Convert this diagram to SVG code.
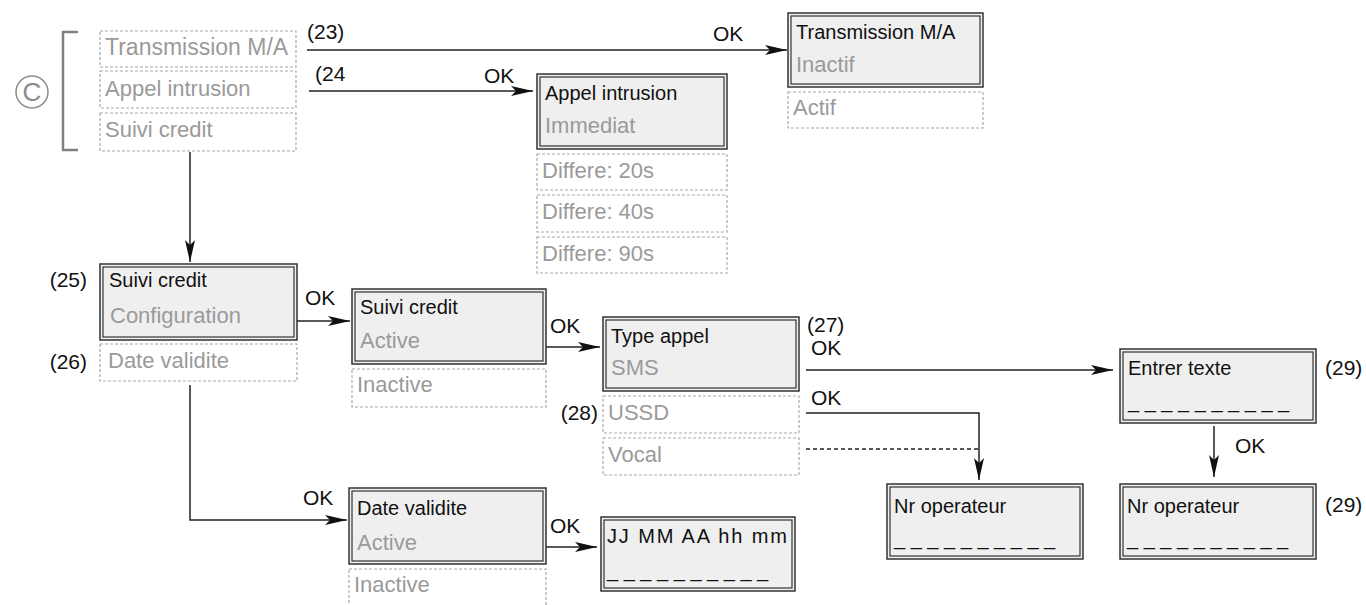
<svg xmlns="http://www.w3.org/2000/svg" width="1366" height="605" viewBox="0 0 1366 605">
<style>
.o{fill:#efefef;stroke:#333;stroke-width:1.5}
.i{fill:none;stroke:#333;stroke-width:1.2}
.d{fill:#fff;stroke:#a8a8a8;stroke-width:1.2;stroke-dasharray:3 2}
.t{font-family:"Liberation Sans",Arial,sans-serif;font-size:20px;fill:#111}
.g{font-family:"Liberation Sans",Arial,sans-serif;font-size:22px;fill:#9a9a9a}
.l{font-family:"Liberation Sans",Arial,sans-serif;font-size:21px;fill:#111}
.c{fill:none;stroke:#222;stroke-width:1.5}
.cd{stroke-dasharray:4 3}
</style>
<defs>
<marker id="ah" viewBox="0 0 22 10" refX="22" refY="5" markerWidth="22" markerHeight="10" markerUnits="userSpaceOnUse" orient="auto">
<path d="M0,0 L22,5 L0,10 L5,5 Z" fill="#111"/>
</marker>
</defs>

<g id="connectors">
<path class="c" d="M307,50 H787" marker-end="url(#ah)"/>
<path class="c" d="M309,91 H533" marker-end="url(#ah)"/>
<path class="c" d="M190,152 V262" marker-end="url(#ah)"/>
<path class="c" d="M297,321 H350" marker-end="url(#ah)"/>
<path class="c" d="M546,347 H600" marker-end="url(#ah)"/>
<path class="c" d="M806,370 H1113" marker-end="url(#ah)"/>
<path class="c" d="M806,413 H979 V480" marker-end="url(#ah)"/>
<path class="c cd" d="M806,449 H979"/>
<path class="c" d="M1214,426 V477" marker-end="url(#ah)"/>
<path class="c" d="M190,385 V520 H347" marker-end="url(#ah)"/>
<path class="c" d="M546,547 H597" marker-end="url(#ah)"/>
<text class="l" x="307" y="39">(23)</text>
<text class="l" x="713" y="41">OK</text>
<text class="l" x="315" y="81">(24</text>
<text class="l" x="484" y="83">OK</text>
<text class="l" x="305" y="305">OK</text>
<text class="l" x="550" y="333">OK</text>
<text class="l" x="807" y="332">(27)</text>
<text class="l" x="811" y="355">OK</text>
<text class="l" x="811" y="405">OK</text>
<text class="l" x="1235" y="453">OK</text>
<text class="l" x="303" y="505">OK</text>
<text class="l" x="550" y="533">OK</text>
</g>

<g id="menu-root">
<path d="M78,32 H63 V150 H78" fill="none" stroke="#808080" stroke-width="2.5"/>
<circle cx="32" cy="92" r="16" fill="none" stroke="#8a8a8a" stroke-width="1.5"/>
<text x="32" y="101" text-anchor="middle" style="font-family:'Liberation Sans',Arial,sans-serif;font-size:26px;fill:#8a8a8a">C</text>
<rect class="d" x="100" y="31" width="196" height="36"/>
<text class="g" x="105" y="55" style="font-size:23px">Transmission M/A</text>
<rect class="d" x="100" y="71" width="196" height="37"/>
<text class="g" x="105" y="96">Appel intrusion</text>
<rect class="d" x="100" y="113" width="196" height="38"/>
<text class="g" x="105" y="137">Suivi credit</text>
</g>

<g id="transmission-ma">
<rect class="o" x="788" y="13" width="195" height="74"/>
<rect class="i" x="791" y="16" width="189" height="68"/>
<text class="t" x="796" y="39">Transmission M/A</text>
<text class="g" x="796" y="72">Inactif</text>
<rect class="d" x="788" y="92" width="195" height="36"/>
<text class="g" x="793" y="115">Actif</text>
</g>

<g id="appel-intrusion">
<rect class="o" x="537" y="74" width="190" height="75"/>
<rect class="i" x="540" y="77" width="184" height="69"/>
<text class="t" x="545" y="100">Appel intrusion</text>
<text class="g" x="545" y="133">Immediat</text>
<rect class="d" x="537" y="154" width="190" height="36"/>
<text class="g" x="542" y="178">Differe: 20s</text>
<rect class="d" x="537" y="195" width="190" height="37"/>
<text class="g" x="542" y="219">Differe: 40s</text>
<rect class="d" x="537" y="237" width="190" height="36"/>
<text class="g" x="542" y="261">Differe: 90s</text>
</g>

<g id="suivi-credit-config">
<text class="l" x="87" y="287" text-anchor="end">(25)</text>
<rect class="o" x="100" y="264" width="197" height="76"/>
<rect class="i" x="103" y="267" width="191" height="70"/>
<text class="t" x="109" y="287">Suivi credit</text>
<text class="g" x="110" y="323">Configuration</text>
<text class="l" x="87" y="369" text-anchor="end">(26)</text>
<rect class="d" x="100" y="344" width="197" height="37"/>
<text class="g" x="108" y="368">Date validite</text>
</g>

<g id="suivi-credit-active">
<rect class="o" x="352" y="289" width="194" height="75"/>
<rect class="i" x="355" y="292" width="188" height="69"/>
<text class="t" x="360" y="314">Suivi credit</text>
<text class="g" x="360" y="348">Active</text>
<rect class="d" x="352" y="369" width="194" height="38"/>
<text class="g" x="357" y="392">Inactive</text>
</g>

<g id="type-appel">
<rect class="o" x="603" y="317" width="196" height="74"/>
<rect class="i" x="606" y="320" width="190" height="68"/>
<text class="t" x="611" y="343">Type appel</text>
<text class="g" x="611" y="375">SMS</text>
<text class="l" x="598" y="420" text-anchor="end">(28)</text>
<rect class="d" x="603" y="396" width="196" height="37"/>
<text class="g" x="608" y="420">USSD</text>
<rect class="d" x="603" y="438" width="196" height="37"/>
<text class="g" x="608" y="462">Vocal</text>
</g>

<g id="entrer-texte">
<rect class="o" x="1120" y="349" width="196" height="74"/>
<rect class="i" x="1123" y="352" width="190" height="68"/>
<text class="t" x="1128" y="375">Entrer texte</text>
<text class="t" x="1128" y="408">_ _ _ _ _ _ _ _ _ _</text>
<text class="l" x="1325" y="375">(29)</text>
</g>

<g id="nr-operateur-1">
<rect class="o" x="887" y="484" width="196" height="75"/>
<rect class="i" x="890" y="487" width="190" height="69"/>
<text class="t" x="894" y="513">Nr operateur</text>
<text class="t" x="894" y="545">_ _ _ _ _ _ _ _ _ _</text>
</g>

<g id="nr-operateur-2">
<rect class="o" x="1120" y="484" width="196" height="75"/>
<rect class="i" x="1123" y="487" width="190" height="69"/>
<text class="t" x="1127" y="513">Nr operateur</text>
<text class="t" x="1127" y="545">_ _ _ _ _ _ _ _ _ _</text>
<text class="l" x="1325" y="512">(29)</text>
</g>

<g id="date-validite">
<rect class="o" x="349" y="488" width="197" height="76"/>
<rect class="i" x="352" y="491" width="191" height="70"/>
<text class="t" x="357" y="515">Date validite</text>
<text class="g" x="357" y="550">Active</text>
<rect class="d" x="349" y="569" width="197" height="40"/>
<text class="g" x="354" y="592">Inactive</text>
</g>

<g id="jj-mm-aa">
<rect class="o" x="601" y="517" width="194" height="74"/>
<rect class="i" x="604" y="520" width="188" height="68"/>
<text class="t" x="607" y="543" textLength="180" lengthAdjust="spacing">JJ MM AA hh mm</text>
<text class="t" x="607" y="577">_ _ _ _ _ _ _ _ _ _</text>
</g>
</svg>
